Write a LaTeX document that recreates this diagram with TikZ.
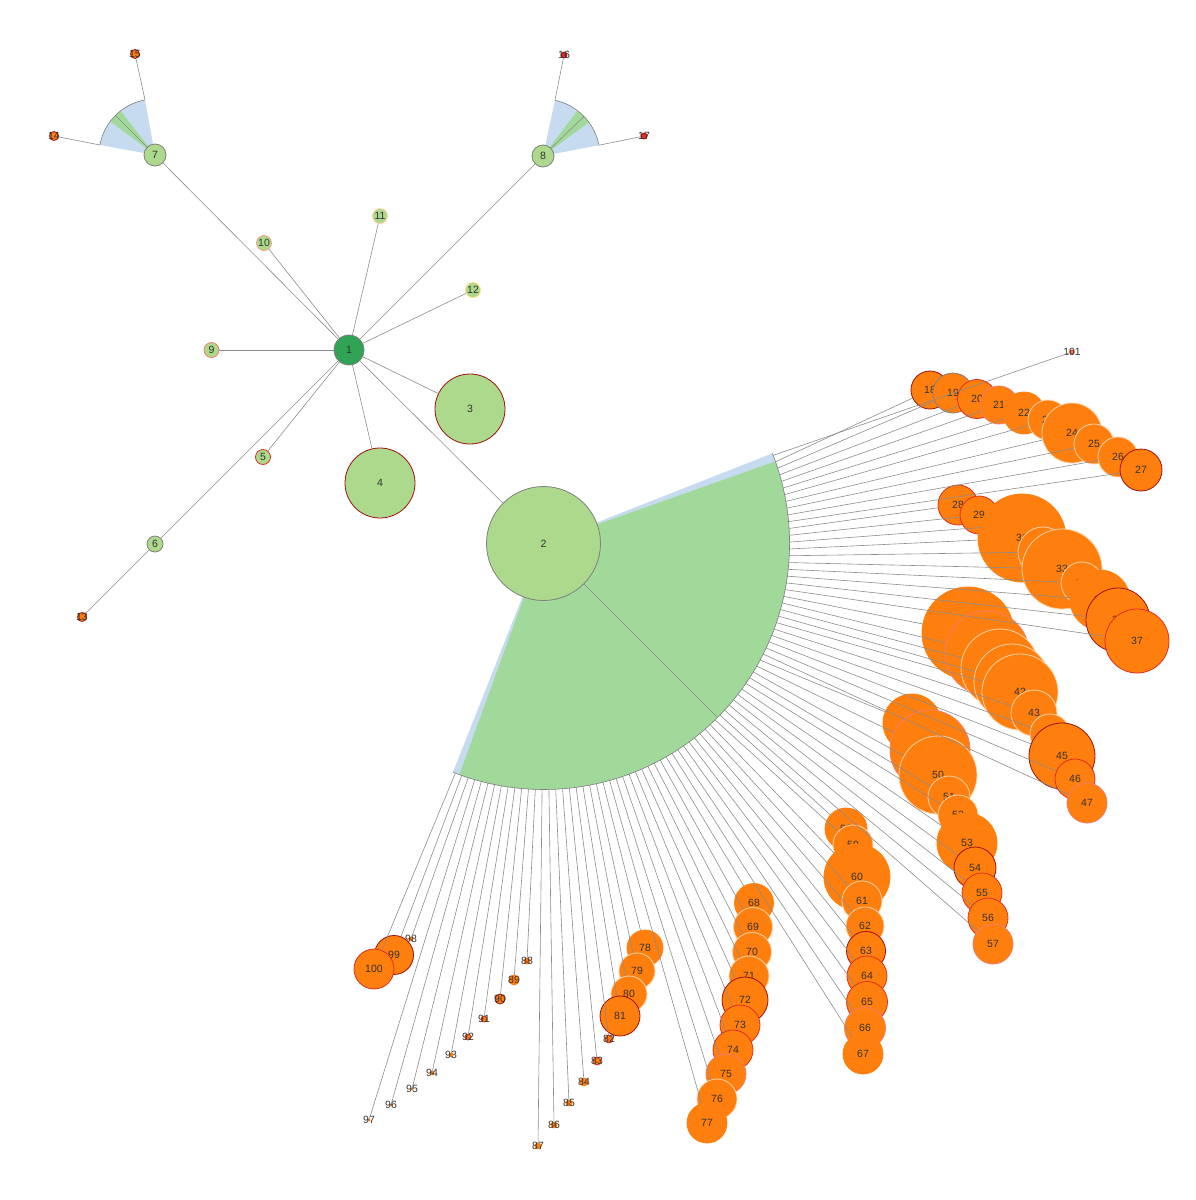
\documentclass[tikz,border=0pt]{standalone}
\usepackage{fontspec}
\setmainfont{Liberation Sans}
\usetikzlibrary{calc}

\definecolor{nodegreen}{HTML}{ACD98C}
\definecolor{rootgreen}{HTML}{31A354}
\definecolor{fangreen}{HTML}{A1D99B}
\definecolor{fanblue}{HTML}{C6DBEF}
\definecolor{leaforange}{HTML}{FF7F0E}
\definecolor{linegrey}{HTML}{8C8C8C}
\definecolor{labgrey}{HTML}{333333}
\definecolor{odark}{HTML}{A01010}
\definecolor{ored}{HTML}{DD3020}
\definecolor{opink}{HTML}{F47C6C}
\definecolor{olight}{HTML}{FFD2A8}
\definecolor{oorange}{HTML}{FF7F0E}
\definecolor{ogrey}{HTML}{808080}

\begin{document}
\begin{tikzpicture}[x=1pt,y=-1pt]
\tikzstyle{every node}+=[inner sep=0pt]
\tikzstyle{edge}=[draw=linegrey, line width=0.6pt]
\tikzstyle{arcline}=[draw=ogrey, line width=0.6pt]
\tikzstyle{lab}=[font=\fontsize{10.5}{12}\selectfont, text=labgrey]
\tikzstyle{gnode}=[circle, fill=nodegreen, line width=0.8pt]
\tikzstyle{onode}=[circle, fill=leaforange, line width=0.8pt]
\useasboundingbox (0,0) rectangle (1196,1200);

% fans
\coordinate (c2) at (543.5,543.5);
\fill[fanblue] (c2) -- ++(-21.5:246) arc[start angle=-21.5, end angle=111.6, radius=246] -- cycle;
\fill[fangreen] (c2) -- ++(-19.5:246) arc[start angle=-19.5, end angle=110, radius=246] -- cycle;
\draw[arcline] (c2) ++(-21.5:246) arc[start angle=-21.5, end angle=111.6, radius=246];
\path (c2) ++(45:246) coordinate (fanmid);

\coordinate (c7) at (155,155);
\fill[fanblue] (c7) -- ++(-169.7:56) arc[start angle=-169.7, end angle=-100.3, radius=56] -- cycle;
\fill[fangreen] (c7) -- ++(-143:56) arc[start angle=-143, end angle=-128, radius=56] -- cycle;
\draw[arcline] (c7) ++(-169.7:56) coordinate (f7a) arc[start angle=-169.7, end angle=-100.3, radius=56] coordinate (f7b);
\path (c7) ++(-135:56) coordinate (f7m);

\coordinate (c8) at (543,156);
\fill[fanblue] (c8) -- ++(-77.9:57) arc[start angle=-77.9, end angle=-10.9, radius=57] -- cycle;
\fill[fangreen] (c8) -- ++(-52.7:57) arc[start angle=-52.7, end angle=-36.3, radius=57] -- cycle;
\draw[arcline] (c8) ++(-77.9:57) coordinate (f8a) arc[start angle=-77.9, end angle=-10.9, radius=57] coordinate (f8b);
\path (c8) ++(-44:57) coordinate (f8m);

% arc ends of the leaves
\foreach \k in {0,...,83}{
  \pgfmathtruncatemacro{\n}{\k==0 ? 101 : \k+17}
  \path (c2) ++({-21+\k*132/83}:246) coordinate (t\n);
}

% inner nodes
\node[circle, fill=rootgreen, draw=ogrey, line width=0.8pt, minimum size=30pt, label={[lab]center:1}] (n1) at (349,350) {};
\node[gnode, draw=ogrey, minimum size=114pt, label={[lab]center:2}] (n2) at (543.5,543.5) {};
\node[gnode, draw=odark, minimum size=70pt, label={[lab]center:3}] (n3) at (470,409) {};
\node[gnode, draw=odark, minimum size=70pt, label={[lab]center:4}] (n4) at (380,483) {};
\node[gnode, draw=ored, minimum size=15pt, label={[lab]center:5}] (n5) at (263,457) {};
\node[gnode, draw=ogrey, minimum size=16pt, label={[lab]center:6}] (n6) at (155,544) {};
\node[gnode, draw=ogrey, minimum size=22pt, label={[lab]center:7}] (n7) at (155,155) {};
\node[gnode, draw=ogrey, minimum size=22pt, label={[lab]center:8}] (n8) at (543,156) {};
\node[gnode, draw=opink, minimum size=15pt, label={[lab]center:9}] (n9) at (211.5,350) {};
\node[gnode, draw=opink!60!olight, minimum size=15pt, label={[lab]center:10}] (n10) at (264,243) {};
\node[gnode, draw=olight, minimum size=15pt, label={[lab]center:11}] (n11) at (380,216) {};
\node[gnode, draw=olight!70!yellow, minimum size=15pt, label={[lab]center:12}] (n12) at (473,290) {};
\node[onode, draw=odark, minimum size=9pt, label={[lab]center:13}] (n13) at (82,617) {};
\node[onode, draw=odark, minimum size=9pt, label={[lab]center:14}] (n14) at (54,136) {};
\node[onode, draw=odark, minimum size=9pt, label={[lab]center:15}] (n15) at (135,54) {};
\node[onode, fill=ored, draw=odark, minimum size=6pt, label={[lab]center:16}] (n16) at (564,55) {};
\node[onode, fill=ored, draw=odark, minimum size=6pt, label={[lab]center:17}] (n17) at (644,136) {};

% leaves
\foreach \n/\x/\y/\d/\o in {
  18/930/390/38/odark, 19/953/393/40/ogrey, 20/977/399/39/ored, 21/999/405/38/opink,
  22/1024/413/42/oorange, 23/1048/420/40/olight, 24/1072/433/60/olight, 25/1094/444/40/olight,
  26/1118/457/40/olight, 27/1141/470/42/odark,
  28/958/505/40/ored, 29/979/515/38/ored, 30/1000/526/36/oorange, 31/1022/538/88/oorange,
  32/1043/552/50/olight, 33/1062/569/80/olight, 34/1082/583/42/olight, 35/1100/600/60/oorange,
  36/1118/620/64/odark, 37/1137/641/64/ored,
  38/968/633/92/oorange, 39/987/653/84/opink, 40/1000/668/78/olight, 41/1012/682/76/olight,
  42/1020/692/76/olight, 43/1034/713/46/olight, 44/1050/734/40/olight, 45/1062/756/66/odark,
  46/1075/779/40/ored, 47/1087/803/40/opink,
  48/912/723/58/oorange, 49/930/750/80/opink, 50/938/775/78/olight, 51/949/797/42/olight,
  52/958/815/40/olight, 53/967/843/60/oorange, 54/975/868/42/odark, 55/982/893/40/ored,
  56/988/918/40/ored, 57/993/944/40/opink,
  58/846/829/42/oorange, 59/853/845/40/olight, 60/857/877/66/oorange, 61/862/901/40/olight,
  62/865/926/38/olight, 63/866/951/39/odark, 64/867/976/40/ored, 65/867/1002/41/ored,
  66/865/1028/41/opink, 67/863/1054/40/oorange,
  68/754/903/39/oorange, 69/753/927/39/olight, 70/752/952/39/olight, 71/749/976/40/olight,
  72/745/1000/46/odark, 73/740/1025/40/ored, 74/733/1050/40/ored, 75/726/1074/40/opink,
  76/717/1099/40/olight, 77/707/1123/40/oorange,
  78/645/948/36/oorange, 79/637/971/36/olight, 80/629/994/36/olight, 81/620/1016/40/odark,
  82/609/1039/8/ored, 83/597/1061/8/ored, 84/584/1082/8/oorange, 85/569/1103/6/oorange,
  86/554/1125/6/oorange, 87/538/1146/6/oorange,
  88/527/961/6/oorange, 89/514/980/10/oorange, 90/500/999/10/odark, 91/484/1019/6/ored,
  92/468/1037/6/ored, 93/451/1055/4/oorange, 94/432/1073/4/oorange, 95/412/1089/2/oorange,
  96/391/1105/2/oorange, 97/369/1120/2/oorange,
  98/411/939/4/oorange, 99/394/955/39/odark, 100/374/969/40/ored, 101/1072/352/4/ored}
  \node[onode, draw=\o, minimum size=\d pt, label={[lab]center:\n}] (n\n) at (\x,\y) {};

% edges
\foreach \m in {2,...,12}
  \draw[edge] (n1) -- (n\m);
\draw[edge] (n6) -- (n13);
\draw[edge] (n7) -- (f7m);
\draw[edge] (f7a) -- (n14);
\draw[edge] (f7b) -- (n15);
\draw[edge] (n8) -- (f8m);
\draw[edge] (f8a) -- (n16);
\draw[edge] (f8b) -- (n17);
\draw[edge] (n2) -- (fanmid);
\foreach \n in {18,...,101}
  \draw[edge] (t\n) -- (n\n);
\end{tikzpicture}
\end{document}
